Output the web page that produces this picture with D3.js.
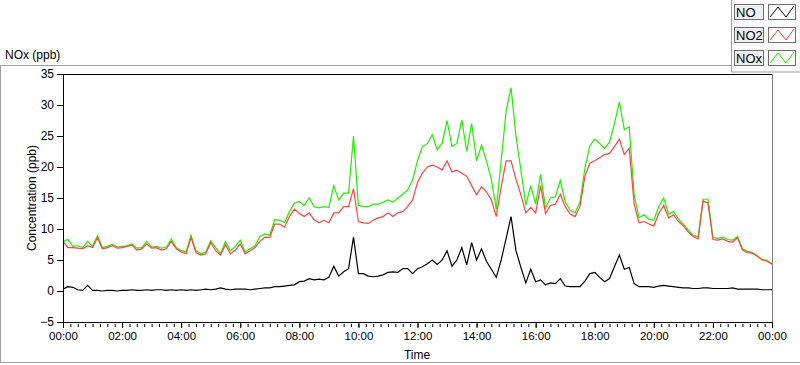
<!DOCTYPE html>
<html>
<head>
<meta charset="utf-8">
<script src="https://cdn.jsdelivr.net/npm/d3@7"></script>
<style>
  body { margin: 0; background: #fff; }
  svg { display: block; font-family: "Liberation Sans", Arial, sans-serif; }
</style>
</head>
<body>
<svg id="chart" width="800" height="365"></svg>
<script>
// minutes since midnight, one sample every 10 min
const minutes = d3.range(0, 1441, 10);

const no = [
  0.3,0.7,0.6,0.2,0.1,0.9,0.1,0.1,0.0,0.1,
  0.1,0.0,0.1,0.1,0.2,0.1,0.1,0.2,0.1,0.2,
  0.2,0.1,0.2,0.1,0.2,0.1,0.2,0.1,0.2,0.3,
  0.2,0.3,0.5,0.3,0.2,0.3,0.3,0.3,0.2,0.3,
  0.4,0.5,0.5,0.7,0.7,0.8,0.9,1.0,1.5,1.6,
  2.0,1.8,1.9,1.8,2.2,4.0,2.4,3.1,3.6,8.7,
  2.8,2.8,2.4,2.3,2.4,2.6,3.0,3.1,3.0,3.6,
  3.6,2.8,3.6,3.9,4.4,5.0,4.3,5.0,6.5,4.0,
  5.0,7.0,4.2,7.8,5.0,6.8,4.8,3.5,2.2,5.0,
  8.5,12.0,6.5,3.8,1.3,3.5,1.5,1.8,1.0,1.3,
  1.2,2.0,0.8,0.7,0.7,0.7,1.6,2.8,3.0,2.2,
  1.5,2.0,3.9,5.8,3.5,3.8,1.2,0.7,0.7,0.7,
  0.6,0.8,0.9,0.8,0.7,0.6,0.5,0.5,0.4,0.4,
  0.5,0.5,0.4,0.4,0.4,0.4,0.5,0.3,0.3,0.3,
  0.3,0.3,0.2,0.2,0.2
];

const no2 = [
  8.0,7.0,7.0,6.9,6.8,7.3,7.0,8.6,6.8,7.0,
  7.3,6.9,7.0,7.2,7.4,6.6,6.8,7.6,6.9,7.0,
  6.6,6.8,8.0,6.8,6.3,6.0,8.6,6.2,5.8,6.0,
  7.8,6.5,5.8,7.5,6.0,6.6,7.6,6.0,6.5,7.0,
  8.0,8.7,8.6,10.8,10.8,10.3,12.0,13.2,12.5,12.0,
  12.6,11.5,11.0,11.4,11.0,12.6,12.6,13.6,13.6,16.5,
  11.2,11.0,10.9,11.4,11.8,12.0,12.6,12.0,12.6,12.8,
  13.6,14.7,17.5,19.0,20.0,20.3,20.0,19.5,21.0,19.2,
  19.5,19.0,18.5,17.0,15.5,16.8,16.0,14.7,12.0,16.8,
  21.0,21.0,18.0,15.5,12.6,13.5,12.6,17.0,12.5,13.8,
  14.0,15.6,13.6,12.4,12.0,13.6,18.5,20.6,21.0,21.5,
  22.0,22.2,23.3,24.5,22.0,23.0,14.0,11.0,11.2,10.8,
  10.5,12.5,13.8,11.8,12.3,11.2,10.5,9.5,8.8,8.4,
  14.5,14.2,8.3,8.2,8.4,8.0,7.9,8.6,6.6,6.2,
  6.1,5.6,5.0,4.8,4.3
];

const nox = [
  8.0,8.3,7.2,7.3,7.0,8.0,7.2,8.9,7.0,7.2,
  7.5,7.1,7.2,7.3,7.6,6.9,7.0,8.0,7.1,7.2,
  6.9,7.1,8.4,7.0,6.5,6.3,9.0,6.5,6.0,6.3,
  8.1,7.0,6.0,8.0,6.5,7.2,8.2,6.3,6.8,7.3,
  8.8,9.2,9.0,11.5,11.4,11.0,12.8,14.2,14.4,13.8,
  15.0,13.6,13.4,13.6,13.5,17.0,14.7,15.8,15.8,25.0,
  13.8,13.6,13.6,14.0,14.0,14.3,14.7,14.3,15.0,15.6,
  16.3,17.9,21.0,23.3,23.8,25.2,22.8,23.8,27.5,23.3,
  23.8,27.6,22.5,27.0,21.0,23.5,21.0,18.0,13.2,21.0,
  29.0,32.8,25.0,19.5,13.8,17.0,14.0,18.8,13.4,15.0,
  15.2,17.8,14.4,13.0,12.6,14.4,19.8,23.4,24.5,23.8,
  23.0,24.0,27.0,30.5,26.0,26.5,15.5,11.8,12.3,11.6,
  11.4,13.6,15.0,12.4,12.8,11.6,10.8,9.8,9.0,8.7,
  14.8,14.8,8.6,8.5,8.7,8.3,8.2,8.8,6.8,6.4,
  6.2,5.7,5.1,4.9,4.4
];

const yTicks = [-5, 0, 5, 10, 15, 20, 25, 30, 35];
const xTicks = d3.range(0, 1441, 120);
const xMinorTicks = d3.range(0, 1441, 15);
const seriesNames = ["NO", "NO2", "NOx"];
const seriesColors = ["#000000", "#ff4444", "#22ee00"];

const svg = d3.select("#chart");

const x = d3.scaleLinear().domain([0, 1440]).range([63, 772]);
const y = d3.scaleLinear().domain([-5, 35]).range([322, 74]);

// outer panel frame
svg.append("rect")
  .attr("x", 0.5).attr("y", 65.5)
  .attr("width", 840).attr("height", 297)
  .attr("fill", "none").attr("stroke", "#a0a0a0");

svg.append("text")
  .attr("x", 5).attr("y", 59)
  .attr("font-size", 12)
  .text("NOx (ppb)");

// plot frame: top black, right grey
svg.append("line")
  .attr("x1", 63).attr("x2", 773).attr("y1", 74.5).attr("y2", 74.5)
  .attr("stroke", "#000");
svg.append("line")
  .attr("x1", 772.5).attr("x2", 772.5).attr("y1", 74).attr("y2", 323)
  .attr("stroke", "#808080");

// series, green under red under black
const line = d3.line()
  .x((d, i) => x(minutes[i]))
  .y(d => y(d));

[[nox, 2], [no2, 1], [no, 0]].forEach(([vals, c]) => {
  svg.append("path")
    .datum(vals)
    .attr("d", line)
    .attr("fill", "none")
    .attr("stroke", seriesColors[c])
    .attr("stroke-width", 1.2);
});

// axes
const yAxis = d3.axisLeft(y).tickValues(yTicks).tickSize(6).tickSizeOuter(0).tickPadding(3);
svg.append("g")
  .attr("transform", "translate(63,0)")
  .call(yAxis)
  .attr("font-size", 12)
  .attr("font-family", null);

const fmt = m => d3.format("02")(Math.floor(m / 60) % 24) + ":00";
const xAxis = d3.axisBottom(x).tickValues(xTicks).tickSize(6).tickSizeOuter(0).tickPadding(4).tickFormat(fmt);
svg.append("g")
  .attr("transform", "translate(0,322)")
  .call(xAxis)
  .attr("font-size", 11.5)
  .attr("font-family", null);

svg.append("g")
  .attr("transform", "translate(0,324)")
  .call(d3.axisBottom(x).tickValues(xMinorTicks).tickSize(3).tickFormat(""))
  .call(g => g.select(".domain").remove());

svg.append("text")
  .attr("x", 417).attr("y", 359)
  .attr("text-anchor", "middle")
  .attr("font-size", 12)
  .text("Time");

svg.append("text")
  .attr("transform", "translate(36,198) rotate(-90)")
  .attr("text-anchor", "middle")
  .attr("font-size", 12)
  .text("Concentration (ppb)");

// legend
const legend = svg.append("g");
legend.append("rect")
  .attr("x", 731.5).attr("y", -1)
  .attr("width", 80).attr("height", 73)
  .attr("fill", "#fbfbfb").attr("stroke", "#a0a0a0");

seriesNames.forEach((name, i) => {
  const top = 4 + i * 23;
  legend.append("rect")
    .attr("x", 734.5).attr("y", top + 0.5)
    .attr("width", 29).attr("height", 15)
    .attr("fill", "#f0f0f0").attr("stroke", "#6e6e6e");
  legend.append("text")
    .attr("x", 736).attr("y", top + 13)
    .attr("font-size", 13)
    .text(name);
  legend.append("rect")
    .attr("x", 768.5).attr("y", top + 0.5)
    .attr("width", 27).attr("height", 15)
    .attr("fill", "#fff").attr("stroke", "#6e6e6e");
  legend.append("polyline")
    .attr("points", [[770, top + 13], [778, top + 3], [786, top + 13], [794, top + 2]].join(" "))
    .attr("fill", "none")
    .attr("stroke", seriesColors[i]);
});
</script>
</body>
</html>
